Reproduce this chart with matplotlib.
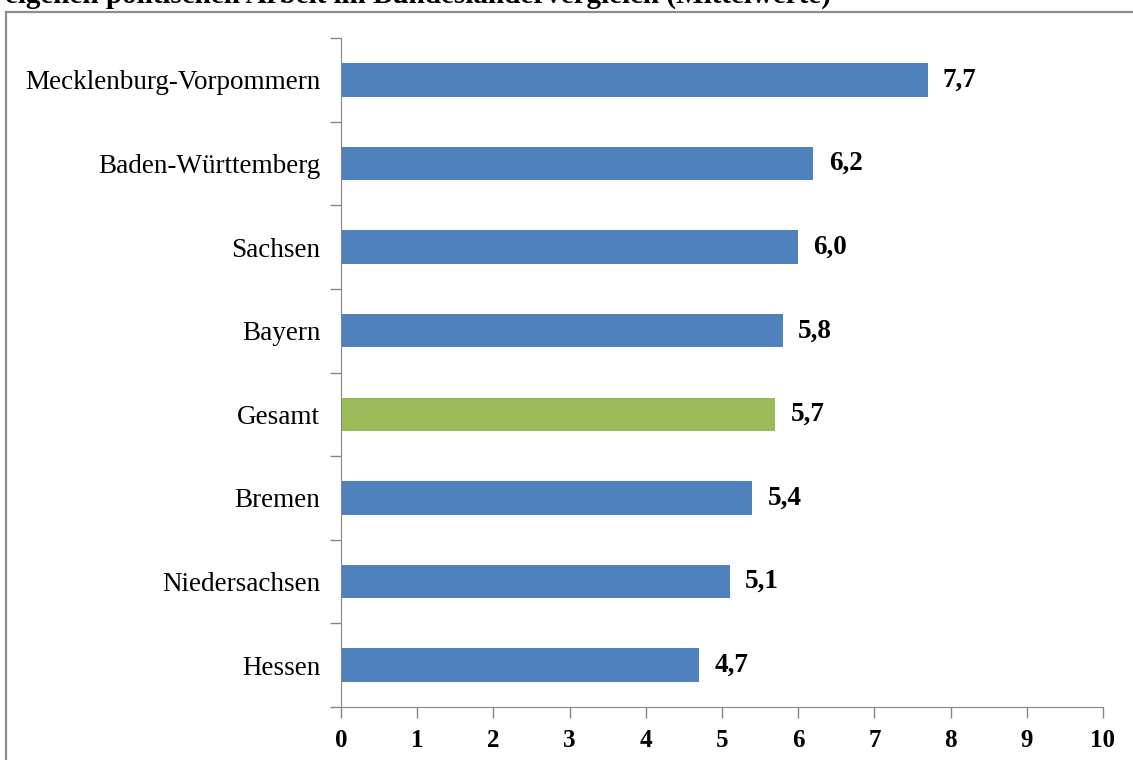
import matplotlib.pyplot as plt
from matplotlib.patches import Rectangle

plt.rcParams['font.family'] = ['Liberation Serif', 'DejaVu Serif']

laender = ["Mecklenburg-Vorpommern", "Baden-Württemberg", "Sachsen", "Bayern",
           "Gesamt", "Bremen", "Niedersachsen", "Hessen"]
mittelwerte = [7.7, 6.2, 6.0, 5.8, 5.7, 5.4, 5.1, 4.7]
farben = ["#4F81BD", "#4F81BD", "#4F81BD", "#4F81BD",
          "#9BBB59", "#4F81BD", "#4F81BD", "#4F81BD"]
titel = "eigenen politischen Arbeit im Bundesländervergleich (Mittelwerte)"

fig = plt.figure(figsize=(11.33, 7.6), dpi=100)
ax = fig.add_axes([341 / 1133, 1 - 707 / 760, 762 / 1133, 669 / 760])

# Rahmen um das Diagramm (rechts/unten abgeschnitten)
fig.patches.append(Rectangle((6 / 1133, -0.05), 1.2, 1 - 12 / 760 + 0.05,
                             transform=fig.transFigure, fill=False,
                             edgecolor="#8c8c8c", linewidth=1.6))
# abgeschnittener Titel oben
fig.text(5 / 1133, 1 - 3 / 760, titel, fontsize=21, fontweight="bold",
         va="baseline", ha="left")

y = list(range(len(laender)))
ax.barh(y, mittelwerte, height=0.4, color=farben)
ax.set_ylim(len(laender) - 0.5, -0.5)
ax.set_xlim(0, 10)

for yi, v in zip(y, mittelwerte):
    ax.text(v + 0.2, yi, f"{v:.1f}".replace(".", ","), va="center", ha="left",
            fontsize=19.5, fontweight="bold")

ax.set_yticks(y)
ax.set_yticklabels(laender, fontsize=19.5)
ax.set_yticks([i - 0.5 for i in range(len(laender) + 1)], minor=True)
ax.tick_params(axis="y", which="major", length=0, pad=15)
ax.tick_params(axis="y", which="minor", length=8, color="#868686", width=1)
ax.set_xticks(range(11))
ax.set_xticklabels([str(i) for i in range(11)], fontsize=18, fontweight="bold")
ax.tick_params(axis="x", length=8, color="#868686", width=1, pad=8)

for s in ["top", "right"]:
    ax.spines[s].set_visible(False)
for s in ["left", "bottom"]:
    ax.spines[s].set_color("#868686")

fig.savefig("out.png", dpi=100)
